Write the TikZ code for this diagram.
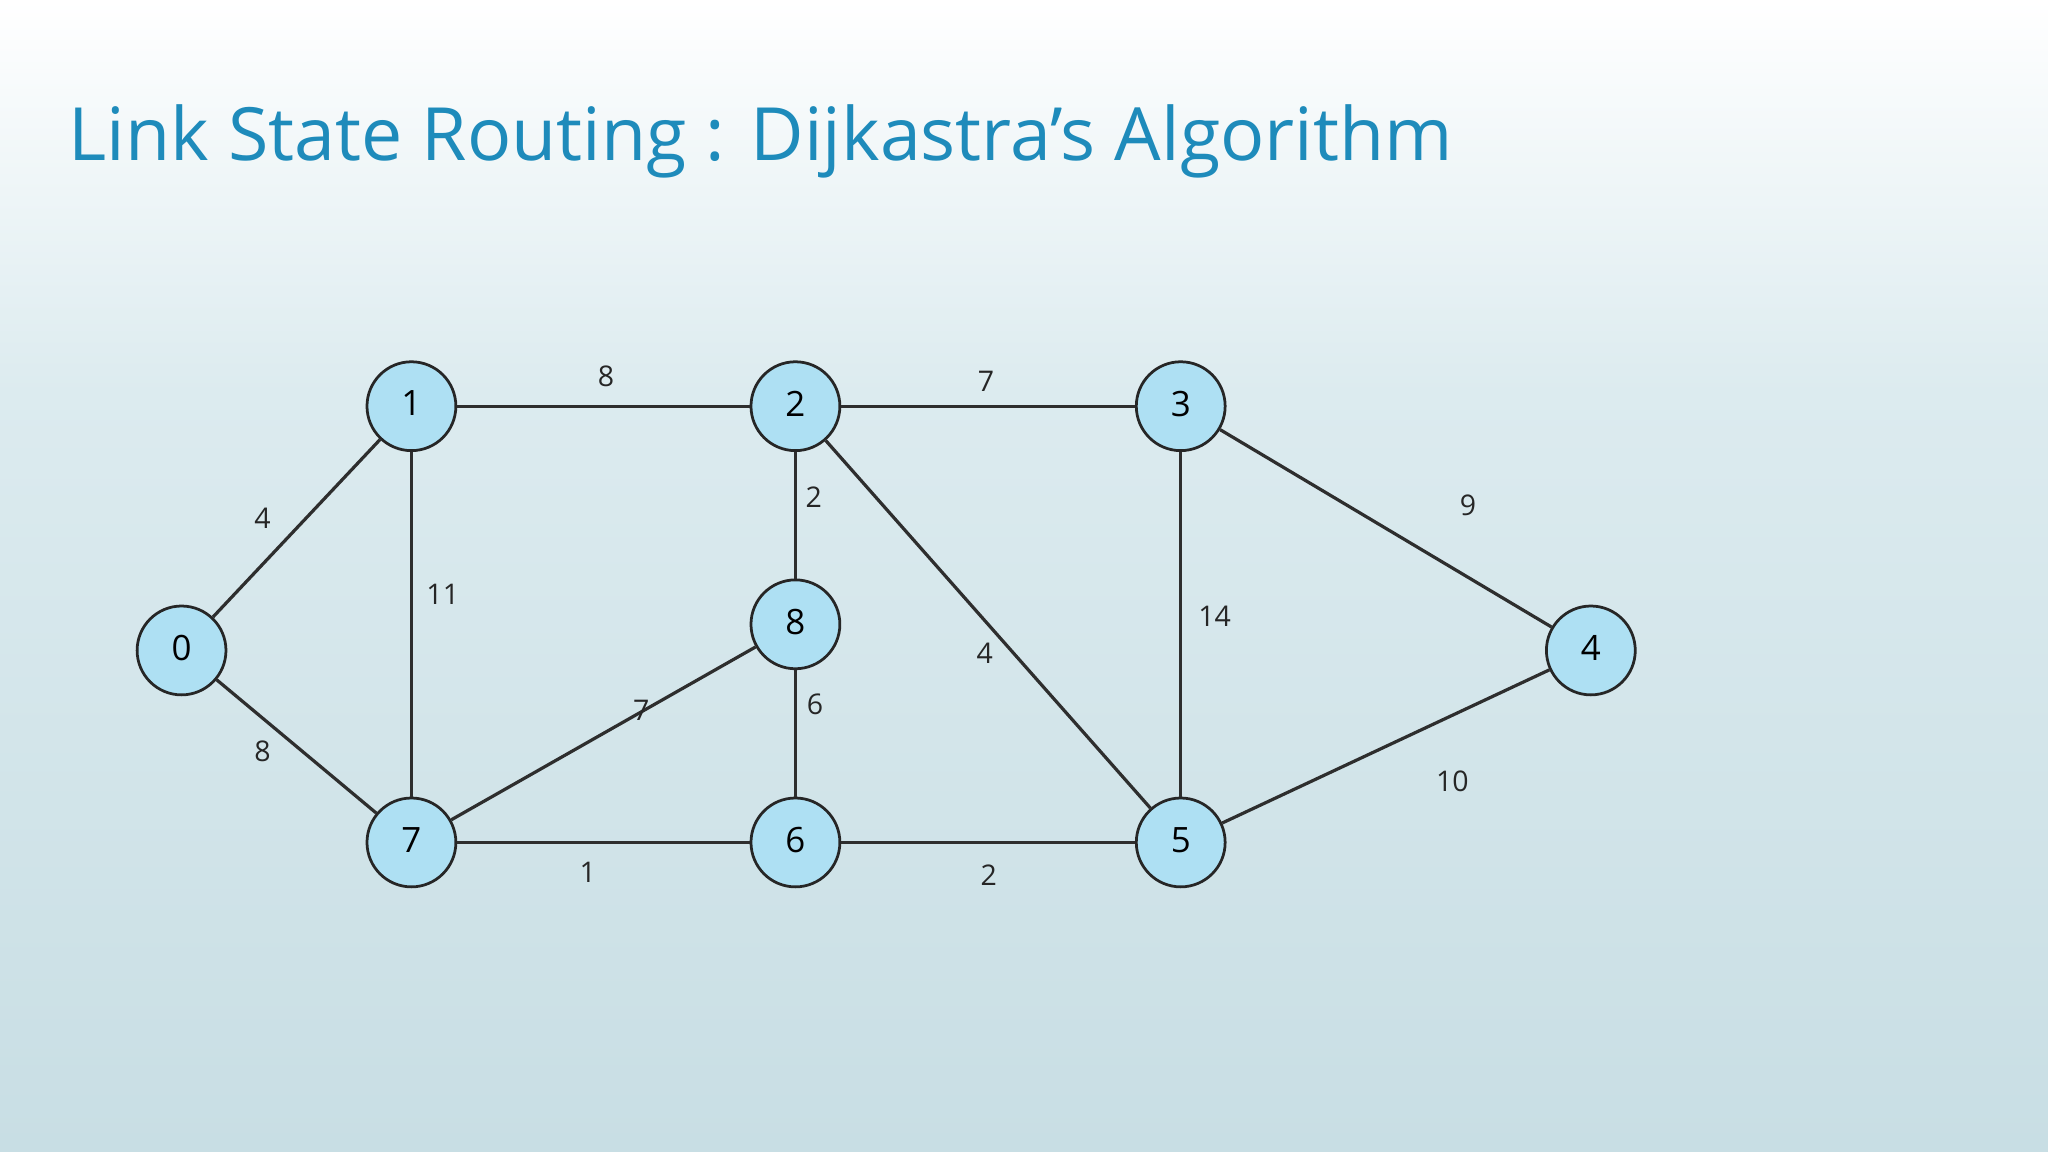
\documentclass[tikz,border=0pt]{standalone}
\usepackage{fontspec}
\setmainfont{Open Sans}
\begin{document}
\begin{tikzpicture}[x=0.01cm,y=-0.01cm,
  vtx/.style={circle,draw=black!85,fill=vfill,line width=0.6pt,minimum size=0.68cm,inner sep=0pt,font=\fontsize{7.6}{9}\selectfont},
  edge/.style={draw=black!82,line width=0.7pt},
  wt/.style={font=\fontsize{6.2}{7}\selectfont,text=black!85}]
\definecolor{vfill}{HTML}{AEE0F3}
\definecolor{titlec}{HTML}{1E8BBB}
\definecolor{bgtop}{HTML}{FFFFFF}
\definecolor{bgmid}{HTML}{DCEBEF}
\definecolor{bgbot}{HTML}{C8DEE4}
\useasboundingbox (0,0) rectangle (1568,882);
\shade[top color=bgtop,bottom color=bgmid] (0,0) rectangle (1568,300);
\shade[top color=bgmid,bottom color=bgbot] (0,299) rectangle (1568,882);
\node[anchor=west,text=titlec,font=\fontsize{16}{20}\selectfont,inner sep=0pt] (title) at (52,108) {Link State Routing : Dijkastra’s Algorithm};
\node[vtx] (n0) at (139,498) {\raisebox{1.2pt}{0}};
\node[vtx] (n1) at (315,311) {\raisebox{1.2pt}{1}};
\node[vtx] (n2) at (609,311) {\raisebox{1.2pt}{2}};
\node[vtx] (n3) at (904,311) {\raisebox{1.2pt}{3}};
\node[vtx] (n4) at (1218,498) {\raisebox{1.2pt}{4}};
\node[vtx] (n5) at (904,645) {\raisebox{1.2pt}{5}};
\node[vtx] (n6) at (609,645) {\raisebox{1.2pt}{6}};
\node[vtx] (n7) at (315,645) {\raisebox{1.2pt}{7}};
\node[vtx] (n8) at (609,478) {\raisebox{1.2pt}{8}};
\draw[edge] (n0)--(n1); \draw[edge] (n0)--(n7);
\draw[edge] (n1)--(n2); \draw[edge] (n1)--(n7);
\draw[edge] (n2)--(n3); \draw[edge] (n2)--(n8); \draw[edge] (n2)--(n5);
\draw[edge] (n3)--(n4); \draw[edge] (n3)--(n5);
\draw[edge] (n4)--(n5);
\draw[edge] (n8)--(n7); \draw[edge] (n8)--(n6);
\draw[edge] (n7)--(n6); \draw[edge] (n6)--(n5);
\node[wt] (w12) at (464,288) {8};
\node[wt] (w23) at (755,292) {7};
\node[wt] (w34) at (1124,387) {9};
\node[wt] (w01) at (201,397) {4};
\node[wt] (w17) at (339,455) {11};
\node[wt] (w28) at (623,381) {2};
\node[wt] (w35) at (930,472) {14};
\node[wt] (w25) at (754,500) {4};
\node[wt] (w87) at (491,544) {7};
\node[wt] (w86) at (624,539) {6};
\node[wt] (w07) at (201,575) {8};
\node[wt] (w45) at (1112,598) {10};
\node[wt] (w76) at (450,668) {1};
\node[wt] (w65) at (757,670) {2};
\end{tikzpicture}
\end{document}
